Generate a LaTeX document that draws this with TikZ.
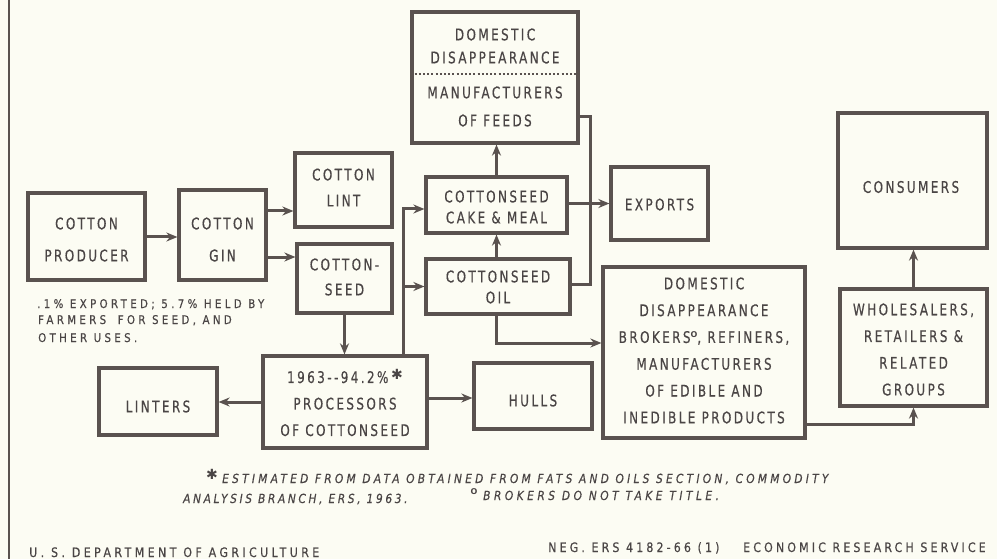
\documentclass[tikz,border=0pt]{standalone}
\usepackage{fontspec}
\setmainfont{DejaVu Sans}
\newfontfamily\boxf[FakeStretch=0.75,LetterSpace=15,FakeBold=0.4]{DejaVu Sans}
\newfontfamily\notef[FakeStretch=0.85,LetterSpace=28,FakeBold=0.4]{DejaVu Sans}
\newfontfamily\footf[FakeStretch=0.85,FakeBold=0.4]{DejaVu Sans}
\newfontfamily\botf[FakeStretch=0.85,FakeBold=0.3]{DejaVu Sans}
\newfontfamily\symf{DejaVu Sans}
\usetikzlibrary{arrows.meta,calc}
\definecolor{ink}{HTML}{5A524F}
\definecolor{txt}{HTML}{4A4545}
\definecolor{paper}{HTML}{FCFCF3}
\newcommand\astk{\raisebox{3pt}{\symf\fontsize{14}{14}\selectfont ✱}}
\newcommand\ringmk{\raisebox{5pt}{\symf\bfseries\fontsize{8}{8}\selectfont O}}
\begin{document}
\begin{tikzpicture}[x=1pt,y=-1pt,
  box/.style={draw=ink,line width=3.2pt,inner sep=0pt},
  lbl/.style={text=txt,align=center,inner sep=0pt,font={\boxf\fontsize{16}{#1}\selectfont}},
  lbl/.default=26.5,
  con/.style={draw=ink,line width=3pt},
  arr/.style={con,-{Stealth[length=11pt,width=9pt,inset=3.5pt]}},
  note/.style={text=txt,inner sep=0pt,anchor=base west,font={\notef\fontsize{12}{17}\selectfont}},
  foot/.style={text=txt,inner sep=0pt,anchor=base west,font={\footf\itshape\fontsize{12.5}{14}\selectfont}},
  bottom/.style={text=txt,inner sep=0pt,anchor=base west,font={\botf\fontsize{13}{14}\selectfont}}
]
\fill[paper] (0,0) rectangle (997,559);
\useasboundingbox (0,0) rectangle (997,559);
\draw[ink,line width=2.8pt] (9,0) -- (9,559);

% boxes
\node[box,minimum width=117pt,minimum height=87pt] (prod) at (86.5,236.5) {};
\node[lbl=32] (prodT) at (86.5,239.5) {COTTON\\PRODUCER};
\node[box,minimum width=87pt,minimum height=90pt] (gin) at (222.5,235) {};
\node[lbl=32] (ginT) at (222.5,239.5) {COTTON\\GIN};
\node[box,minimum width=97pt,minimum height=74pt] (lint) at (343.5,190) {};
\node[lbl=26] (lintT) at (343.5,187.5) {COTTON\\LINT};
\node[box,minimum width=95pt,minimum height=69pt] (cseed) at (344.5,278.5) {};
\node[lbl=25] (cseedT) at (344.5,277) {COTTON-\\SEED};
\node[box,minimum width=141pt,minimum height=56pt] (cake) at (496.5,205) {};
\node[lbl=21] (cakeT) at (496.5,207) {COTTONSEED\\CAKE \& MEAL};
\node[box,minimum width=144pt,minimum height=55pt] (oil) at (498,286.5) {};
\node[lbl=21] (oilT) at (498,287) {COTTONSEED\\OIL};
\node[box,minimum width=166pt,minimum height=131pt] (feeds) at (495,77.5) {};
\node[lbl=23] (feedsA) at (495,46) {DOMESTIC\\DISAPPEARANCE};
\node[lbl=28] (feedsB) at (495,106.5) {MANUFACTURERS\\OF FEEDS};
\node[box,minimum width=97pt,minimum height=73pt] (exp) at (659.5,203.5) {};
\node[lbl] (expT) at (659.5,204.5) {EXPORTS};
\node[box,minimum width=149pt,minimum height=135pt] (cons) at (912.5,180.5) {};
\node[lbl] (consT) at (911,187) {CONSUMERS};
\node[box,minimum width=202pt,minimum height=171pt] (brok) at (704,352.5) {};
\node[lbl=26.8] (brokT) at (704,350.5) {DOMESTIC\\DISAPPEARANCE\\BROKERS\ringmk, REFINERS,\\MANUFACTURERS\\OF EDIBLE AND\\INEDIBLE PRODUCTS};
\node[box,minimum width=147pt,minimum height=117pt] (whole) at (913.5,347.5) {};
\node[lbl=26.7] (wholeT) at (913.5,349.5) {WHOLESALERS,\\RETAILERS \&\\RELATED\\GROUPS};
\node[box,minimum width=164pt,minimum height=92pt] (proc) at (345,402) {};
\node[lbl] (procT) at (345,403) {1963{-}{-}94.2\%\,\astk\\PROCESSORS\\OF COTTONSEED};
\node[box,minimum width=118pt,minimum height=67pt] (lntr) at (158,401.5) {};
\node[lbl] (lntrT) at (158,406.5) {LINTERS};
\node[box,minimum width=118pt,minimum height=66pt] (hull) at (533,396) {};
\node[lbl] (hullT) at (533,400.5) {HULLS};

% dotted divider
\coordinate (y74) at (0,74);
\draw[ink,line width=2.6pt,dash pattern=on 2pt off 2.2pt] (feeds.west |- y74) -- (feeds.east |- y74);

% helper coordinates
\coordinate (y237) at (0,237);
\coordinate (y211) at (0,211);
\coordinate (y257) at (0,257);
\coordinate (x403) at (403,0);
\coordinate (y209) at (0,209);
\coordinate (y117) at (0,117);
\coordinate (x590) at (590,0);
\coordinate (y284) at (0,284);
\coordinate (y343) at (0,343);
\coordinate (y398) at (0,398);
\coordinate (y424) at (0,424);

% connectors
\draw[arr] (prod.east |- y237) -- (gin.west |- y237);
\draw[arr] (gin.east |- y211) -- (lint.west |- y211);
\draw[arr] (gin.east |- y257) -- (cseed.west |- y257);
\draw[arr] (cseed.south) -- (cseed.south |- proc.north);
\draw[arr] (proc.north -| x403) |- (cake.west |- y209);
\draw[arr] (x403 |- oil.west) -- (oil.west);
\draw[arr] (cake.south |- oil.north) -- (cake.south);
\draw[arr] (cake.north) -- (cake.north |- feeds.south);
\draw[arr] (cake.east |- exp.west) -- (exp.west);
\draw[con] (feeds.east |- y117) -| (x590 |- y284) -- (oil.east |- y284);
\draw[arr] (cake.south |- oil.south) |- (brok.west |- y343);
\draw[arr] (proc.west) -- (lntr.east |- proc.west);
\draw[arr] (proc.east |- y398) -- (hull.west |- y398);
\draw[arr] (brok.east |- y424) -| (whole.south);
\draw[arr] (whole.north) -- (whole.north |- cons.south);

% notes
\node[note] (n1) at (37,308) {.1\% EXPORTED; 5.7\% HELD BY};
\node[note] (n2) at (38,324) {FARMERS\hspace{5pt} FOR SEED, AND};
\node[note] (n3) at (38,342) {OTHER USES.};

\node[text=txt,inner sep=0pt] (fstar) at (212,474) {\symf\fontsize{14}{14}\selectfont ✱};
\node[foot] (f1) at (222,483) {\addfontfeature{LetterSpace=26}ESTIMATED FROM DATA OBTAINED FROM FATS AND OILS SECTION, COMMODITY};
\node[foot] (f2) at (183,503) {\addfontfeature{LetterSpace=21}ANALYSIS BRANCH, ERS, 1963.};
\node[text=txt,inner sep=0pt] (fring) at (474,492) {\symf\bfseries\fontsize{8}{8}\selectfont O};
\node[foot] (f3) at (483,500) {\addfontfeature{LetterSpace=28}BROKERS DO NOT TAKE TITLE.};

\node[bottom] (usda) at (29,557) {\addfontfeature{LetterSpace=26}U. S. DEPARTMENT OF AGRICULTURE};
\node[bottom] (neg) at (548,552) {\addfontfeature{LetterSpace=24}NEG. ERS 4182-66 (1)};
\node[bottom] (ers) at (743,552) {\addfontfeature{LetterSpace=24}ECONOMIC RESEARCH SERVICE};
\end{tikzpicture}
\end{document}
